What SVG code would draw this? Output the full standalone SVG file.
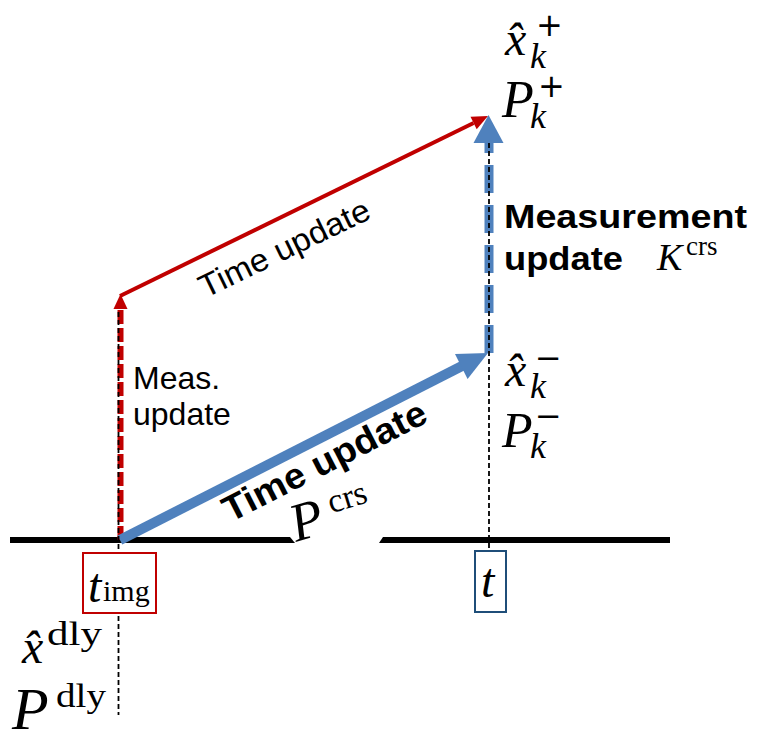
<svg xmlns="http://www.w3.org/2000/svg" width="780" height="742" viewBox="0 0 780 742">
<style>
.m{font-family:"Liberation Serif","Times New Roman",serif;font-style:italic;fill:#000}
.r{font-family:"Liberation Serif","Times New Roman",serif;fill:#000}
.op{font-family:"DejaVu Sans","Liberation Sans",sans-serif;fill:#000}
.s{font-family:"Liberation Sans",Arial,sans-serif;fill:#000}
.b{font-family:"Liberation Sans",Arial,sans-serif;font-weight:bold;fill:#000}
.guide{stroke:#000;stroke-width:1.8;stroke-dasharray:5 3;fill:none}
</style>
<rect width="780" height="742" fill="#fff"/>
<g id="axis">
<polygon points="10,537 290,537 295,543 10,543" fill="#000"/>
<polygon points="383,537 670,537 670,543 379,543" fill="#000"/>
</g>
<g id="connectors">
<path d="M120.5 540 V309" stroke="#C00000" stroke-width="6" stroke-dasharray="14 4" fill="none"/>
<polygon points="120.5,294 113.5,309 127.5,309" fill="#C00000"/>
<path d="M120 296 L473.6 123" stroke="#C00000" stroke-width="4" fill="none"/>
<polygon points="488,116 476.7,129.3 470.5,116.7" fill="#C00000"/>
<path d="M120 540 L463 365.5" stroke="#4F81BD" stroke-width="10" fill="none"/>
<polygon points="488,353 467.6,379.1 455,354.1" fill="#4F81BD"/>
<path d="M489 353 V143" stroke="#4F81BD" stroke-width="9" stroke-dasharray="28 12" fill="none"/>
<polygon points="488.5,115 473.5,143 503.5,143" fill="#4F81BD"/>
<path class="guide" d="M118.5 312 V715"/>
<path class="guide" d="M489 143 V551"/>
</g>
<g id="state-plus">
<text class="m" x="505" y="55" font-size="48">x̂</text>
<text class="m" x="530" y="68" font-size="36">k</text>
<text class="op" x="536" y="36" font-size="32">+</text>
<text class="m" x="502" y="117" font-size="52">P</text>
<text class="m" x="530" y="128" font-size="36">k</text>
<text class="op" x="538" y="97" font-size="32">+</text>
</g>
<g id="state-minus">
<text class="m" x="505" y="386" font-size="48">x̂</text>
<text class="m" x="530" y="398" font-size="36">k</text>
<text class="op" x="535" y="369" font-size="32">−</text>
<text class="m" x="502" y="447" font-size="50">P</text>
<text class="m" x="530" y="458" font-size="36">k</text>
<text class="op" x="535" y="427" font-size="32">−</text>
</g>
<g id="meas-update-label">
<text class="b" x="504" y="228" font-size="34" textLength="243" lengthAdjust="spacingAndGlyphs">Measurement</text>
<text class="b" x="504" y="270" font-size="34" textLength="119" lengthAdjust="spacingAndGlyphs">update</text>
<text class="m" x="657" y="270" font-size="38" fill="#262626">K</text>
<text class="r" x="686" y="255" font-size="27" fill="#262626">crs</text>
</g>
<g id="meas-label">
<text class="s" x="133" y="389" font-size="32">Meas.</text>
<text class="s" x="133" y="425" font-size="32">update</text>
</g>
<g id="red-time-label">
<text class="s" transform="translate(289,258) rotate(-25.8)" text-anchor="middle" font-size="32" textLength="186" lengthAdjust="spacingAndGlyphs">Time update</text>
</g>
<g id="blue-time-label">
<text class="b" transform="translate(330,472) rotate(-27)" text-anchor="middle" font-size="36" textLength="224" lengthAdjust="spacingAndGlyphs">Time update</text>
<g transform="translate(296,542) rotate(-17)">
<text class="m" x="0" y="0" font-size="54">P</text>
<text class="r" x="42" y="-17" font-size="34">crs</text>
</g>
</g>
<g id="t-img">
<rect x="83" y="553" width="73" height="60" fill="#fff" stroke="#C00000" stroke-width="2"/>
<text class="m" x="88" y="602" font-size="48">t</text>
<text class="r" x="103" y="601" font-size="30">img</text>
</g>
<g id="t-now">
<rect x="475" y="551" width="31" height="61" fill="#fff" stroke="#1F4E79" stroke-width="2"/>
<text class="m" x="481" y="597" font-size="48">t</text>
</g>
<g id="delayed">
<text class="m" x="22" y="663" font-size="48">x̂</text>
<text class="r" x="47" y="645" font-size="34" textLength="55" lengthAdjust="spacingAndGlyphs">dly</text>
<text class="m" x="12" y="729" font-size="60">P</text>
<text class="r" x="56" y="707" font-size="34" textLength="50" lengthAdjust="spacingAndGlyphs">dly</text>
</g>
</svg>
